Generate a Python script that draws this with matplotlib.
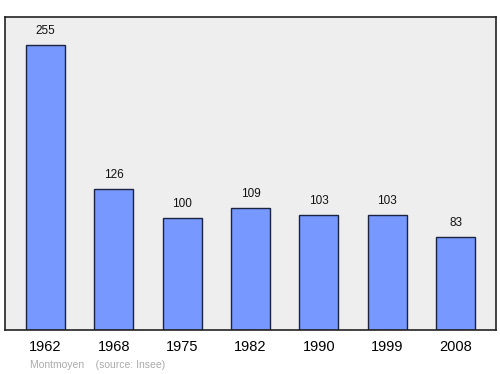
import matplotlib
matplotlib.use('Agg')
import matplotlib.pyplot as plt
import numpy as np

years = ['1962', '1968', '1975', '1982', '1990', '1999', '2008']
population = [255, 126, 100, 109, 103, 103, 83]
commune = 'Montmoyen'
source = '(source: Insee)'

plt.rcParams['font.family'] = ['Liberation Sans', 'DejaVu Sans']

fig = plt.figure(figsize=(5.0, 3.74), dpi=100)
W, H = 500.0, 374.0
ax = fig.add_axes([5/W, 1-330/H, 491/W, 313/H])
ax.set_facecolor('#eeeeee')

x = np.arange(len(years))
ax.bar(x, population, width=0.57, color='#7799ff', edgecolor='#1a2340', linewidth=1.0)
for xi, v in zip(x, population):
    ax.text(xi, v + 7, str(v), ha='center', va='bottom', fontsize=8.5, color='#111111')

ax.set_xlim(-0.59, 6.59)
ax.set_ylim(0, 280)
ax.set_yticks([])
ax.set_xticks(x)
ax.set_xticklabels(years, fontsize=10.5)
ax.tick_params(axis='x', length=0, pad=7)
for s in ax.spines.values():
    s.set_linewidth(1.2)
    s.set_color('#222222')

fig.text(30/W, 1-365/H, commune + '    ' + source, fontsize=7.5, color='#aaaaaa', va='center', ha='left')

plt.savefig('out.png', dpi=100)
